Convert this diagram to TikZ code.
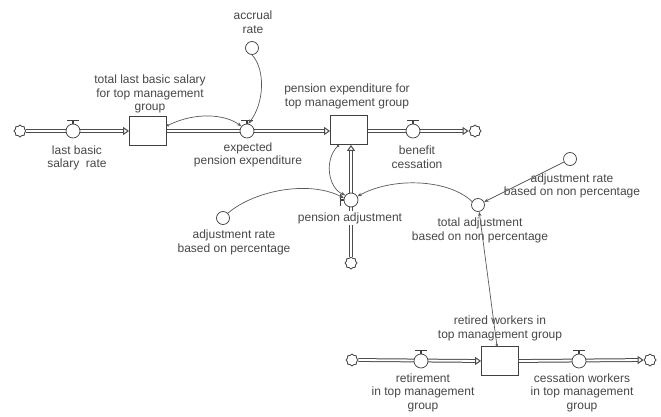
\documentclass[tikz,border=0pt]{standalone}
\usepackage{fontspec}
\setmainfont{Liberation Sans}
\usetikzlibrary{arrows.meta,shapes.symbols}

\begin{document}
\begin{tikzpicture}[x=1pt,y=-1pt,>={Stealth[length=4.5pt,width=3.5pt]},font=\fontsize{12}{13.5}\selectfont,text=black!72,
  stock node/.style={rectangle,draw=black!75,fill=white,line width=0.8pt,minimum width=37pt,minimum height=29pt,inner sep=0pt},
  valve node/.style={circle,draw=black!75,fill=white,line width=0.7pt,minimum size=14pt,inner sep=0pt},
  aux node/.style={circle,draw=black!75,fill=white,line width=0.7pt,minimum size=13pt,inner sep=0pt},
  cloud node/.style={cloud,cloud puffs=8,aspect=1,draw=black!75,fill=white,line width=0.8pt,minimum size=12pt,inner sep=0pt},
  label node/.style={align=center,inner sep=0pt},
  pipe/.style={draw=black!70,double=white,double distance=1.8pt,line width=1pt,-{Triangle[open,length=6pt,width=8pt]}},
  link/.style={->,draw=black!65,line width=0.7pt},
  valve bar/.style={draw=black!75,line width=1.1pt}]
  \useasboundingbox (0,0) rectangle (661,417);

  % clouds and stocks
  \node[cloud node] (c1) at (20,131) {};
  \node[stock node] (tlbs) at (148,131) {};
  \node[stock node] (pe) at (349,130) {};
  \node[cloud node] (c2) at (475,131) {};
  \node[cloud node] (c3) at (351,263) {};
  \node[cloud node] (c4) at (352,360) {};
  \node[stock node] (rw) at (500,361) {};
  \node[cloud node] (c5) at (650,360) {};

  % pipes
  \draw[pipe] (c1.east) -- (tlbs.west);
  \draw[pipe] (tlbs.east) -- (pe.west |- tlbs.east);
  \draw[pipe] (pe.east |- tlbs.east) -- (c2.west);
  \draw[pipe] (c3.north) -- (c3.north |- pe.south);
  \draw[pipe] (c4.east) -- (rw.west);
  \draw[pipe] (rw.east) -- (c5.west);

  % valves
  \node[valve node] (lbsr) at (73,131) {};
  \node[valve node] (epe) at (247,131) {};
  \node[valve node] (bc) at (413,131) {};
  \node[valve node] (pa) at (351,200) {};
  \node[valve node] (ret) at (421,361) {};
  \node[valve node] (cw) at (579,361) {};
  \foreach \v in {lbsr,epe,bc,ret,cw}
    \draw[valve bar] (\v.north) -- ++(0,-3) ++(-6,0) -- ++(12,0);
  \draw[valve bar] (pa.west) -- ++(-3,0) ++(0,-6) -- ++(0,12);

  % auxiliaries
  \node[aux node] (ar) at (252,48) {};
  \node[aux node] (arbp) at (223,218) {};
  \node[aux node] (tabnp) at (478,205) {};
  \node[aux node] (arbnp) at (570,159) {};

  % labels
  \node[label node] (l1) at (77,158) {last basic\\salary\ \ rate};
  \node[label node] (l2) at (150,94) {total last basic salary\\for top management\\group};
  \node[label node] (l3) at (248,155) {expected\\pension expenditure};
  \node[label node] (l4) at (253,22) {accrual\\rate};
  \node[label node] (l5) at (347,96.5) {pension expenditure for\\top management group};
  \node[label node] (l6) at (417,157) {benefit\\cessation};
  \node[label node] (l7) at (572,186) {adjustment rate\\based on non percentage};
  \node[label node,fill=white,inner sep=1pt] (l8) at (350,218) {pension adjustment};
  \node[label node] (l9) at (480,230.5) {total adjustment\\based on non percentage};
  \node[label node] (l10) at (234,242.5) {adjustment rate\\based on percentage};
  \node[label node] (l11) at (500,328.5) {retired workers in\\top management group};
  \node[label node] (l12) at (423,392.5) {retirement\\in top management\\group};
  \node[label node] (l13) at (582,392.5) {cessation workers\\in top management\\group};

  % connectors
  \draw[link,{Circle[open,length=2.5pt]}->] (tlbs.15) .. controls (195,112) and (225,114) .. (epe.140);
  \draw[link] (ar.south) .. controls (266,70) and (264,104) .. (epe.80);
  \draw[link,{Circle[open,length=2.5pt]}->] ([xshift=-10pt]pe.south) .. controls (324,160) and (328,188) .. (pa.140);
  \draw[link] (arbp.45) .. controls (255,190) and (310,180) .. (pa.165);
  \draw[link] (tabnp.150) .. controls (450,180) and (395,176) .. (pa.30);
  \draw[link] (arbnp) -- (tabnp);
  \draw[link,{Circle[open,length=2.5pt]}->] ([xshift=-3pt]rw.north) -- (tabnp.-80);
\end{tikzpicture}
\end{document}
